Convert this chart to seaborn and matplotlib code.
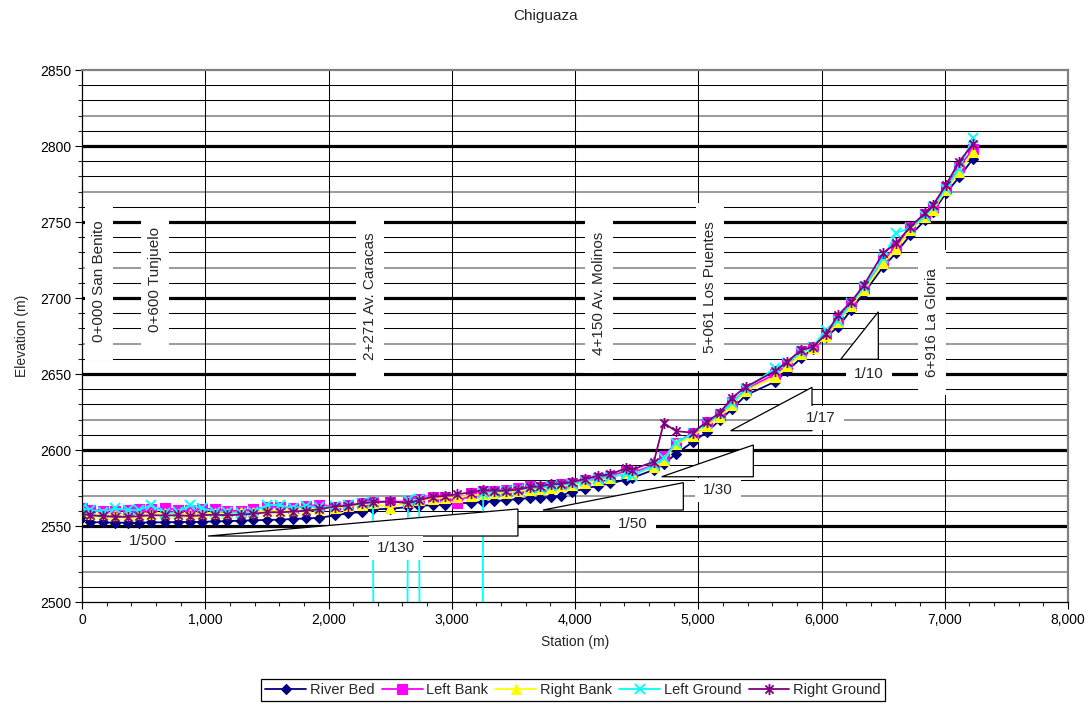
import numpy as np
import pandas as pd
import matplotlib
matplotlib.use("Agg")
import matplotlib.pyplot as plt
from matplotlib.ticker import MultipleLocator, FuncFormatter
from matplotlib.patches import Polygon, Rectangle
from matplotlib.lines import Line2D
from matplotlib.path import Path
import seaborn as sns

# ---------------- data ----------------
stations = [0, 65, 170, 270, 370, 465, 560, 675, 780, 880,
            975, 1080, 1175, 1290, 1385, 1505, 1605, 1710, 1820, 1920,
            2050, 2160, 2270, 2360, 2500, 2645, 2735, 2850, 2945, 3045,
            3155, 3255, 3345, 3440, 3540, 3635, 3715, 3805, 3885, 3975,
            4080, 4185, 4285, 4415, 4460, 4640, 4720, 4820, 4955, 5070,
            5175, 5275, 5385, 5625, 5720, 5835, 5930, 6035, 6135, 6240,
            6345, 6500, 6605, 6720, 6840, 6905, 7010, 7115, 7230]

river_bed = [2555.5, 2552.5, 2552.4, 2552.2, 2552.2, 2552.2, 2552.4, 2552.4, 2552.6, 2552.6,
             2552.8, 2553.0, 2553.2, 2553.5, 2553.7, 2554.0, 2554.2, 2554.6, 2555.0, 2555.3,
             2557.0, 2558.3, 2559.2, 2561.0, 2561.3, 2562.5, 2563.2, 2563.8, 2564.0, 2565.0,
             2565.2, 2565.8, 2566.4, 2567.0, 2567.8, 2568.4, 2568.6, 2569.2, 2570.0, 2572.5,
             2574.5, 2576.5, 2578.0, 2580.5, 2581.5, 2587.0, 2591.0, 2597.4, 2605.3, 2611.8,
             2619.7, 2627.0, 2636.0, 2645.0, 2652.0, 2660.5, 2666.4, 2674.3, 2681.0, 2692.0,
             2703.3, 2720.5, 2729.6, 2741.4, 2751.0, 2756.6, 2769.0, 2779.3, 2791.7]

left_bank = [2562.0, 2560.5, 2560.0, 2560.0, 2560.5, 2561.0, 2561.0, 2562.0, 2560.5, 2560.5,
             2561.0, 2561.5, 2560.0, 2560.0, 2561.0, 2562.5, 2562.5, 2562.0, 2563.0, 2564.0,
             2562.8, 2563.8, 2565.0, 2566.0, 2566.0, 2566.2, 2567.6, 2568.9, 2569.3, 2565.0,
             2571.5, 2573.2, 2573.2, 2573.6, 2574.8, 2576.0, 2575.6, 2576.0, 2577.6, 2578.5,
             2580.0, 2581.5, 2583.0, 2586.0, 2585.0, 2590.0, 2596.0, 2604.5, 2611.5, 2618.5,
             2623.5, 2631.5, 2640.0, 2650.0, 2656.5, 2665.0, 2668.0, 2676.0, 2686.0, 2697.0,
             2707.0, 2725.0, 2734.0, 2747.0, 2755.0, 2760.0, 2773.0, 2786.0, 2798.0]

right_bank = [2560.0, 2558.0, 2558.0, 2557.5, 2557.5, 2558.0, 2558.0, 2558.5, 2558.0, 2558.0,
              2558.5, 2558.5, 2558.5, 2559.0, 2559.0, 2560.0, 2560.0, 2560.5, 2561.0, 2561.5,
              2562.0, 2563.0, 2564.0, 2565.0, 2561.8, 2566.0, 2567.0, 2568.0, 2568.5, 2569.0,
              2570.0, 2571.0, 2571.5, 2572.0, 2573.0, 2574.0, 2574.5, 2575.0, 2576.0, 2577.0,
              2578.5, 2580.0, 2581.5, 2585.0, 2584.0, 2588.5, 2593.4, 2604.0, 2609.0, 2616.0,
              2622.0, 2629.5, 2639.0, 2648.0, 2655.0, 2663.0, 2667.0, 2675.0, 2684.0, 2695.0,
              2705.0, 2723.0, 2732.0, 2745.0, 2753.0, 2758.0, 2771.0, 2783.0, 2796.0]

left_ground = [2561.6, 2560.5, 2559.4, 2561.6, 2560.5, 2560.5, 2563.8, 2558.3, 2559.4, 2563.8,
               2561.6, 2559.4, 2559.4, 2558.3, 2559.4, 2563.8, 2563.8, 2561.6, 2563.2, 2562.3,
               2563.0, 2563.5, 2565.0, 2566.0, 0.0, 2567.0, 2567.5, 0.0, 0.0, 0.0,
               0.0, 2571.5, 2572.5, 2573.0, 2574.0, 2575.0, 2575.0, 2576.0, 2577.0, 2577.5,
               2579.5, 2581.0, 2582.5, 2584.0, 2583.0, 2590.0, 2594.5, 2604.5, 2611.0, 2618.0,
               2623.5, 2631.0, 2640.0, 2654.0, 2657.0, 2664.5, 2668.0, 2679.0, 2685.0, 2696.5,
               2707.0, 2726.0, 2742.8, 2746.0, 2754.0, 2760.0, 2772.0, 2785.0, 2805.5]

right_ground = [2558.0, 2557.0, 2556.5, 2556.0, 2556.0, 2556.5, 2557.0, 2557.0, 2557.0, 2556.5,
                2557.0, 2557.5, 2557.0, 2557.5, 2558.0, 2559.0, 2559.0, 2559.5, 2560.0, 2561.0,
                2562.8, 2563.4, 2565.0, 2565.6, 2566.2, 2565.0, 2567.0, 2569.3, 2569.8, 2571.0,
                2572.0, 2573.8, 2573.2, 2573.2, 2574.0, 2575.6, 2576.0, 2577.6, 2577.6, 2579.0,
                2581.0, 2583.0, 2584.0, 2588.0, 2587.0, 2592.3, 2617.8, 2612.4, 2611.4, 2618.6,
                2624.5, 2634.5, 2641.4, 2652.0, 2658.0, 2665.8, 2667.8, 2676.0, 2688.8, 2697.4,
                2708.6, 2729.6, 2736.0, 2746.7, 2755.9, 2761.2, 2774.3, 2789.5, 2801.3]

series_names = ["River Bed", "Left Bank", "Right Bank", "Left Ground", "Right Ground"]

# station labels: text, station, elevation
site_labels = ["0+000 San Benito", "0+600 Tunjuelo", "2+271 Av. Caracas",
               "4+150 Av. Molinos", "5+061 Los Puentes", "6+916 La Gloria"]
site_x = [138, 592, 2337, 4195, 5095, 6897]
site_y = [2711, 2712, 2701, 2703, 2707, 2684]

# slope triangles (station_start, elev_start, station_end, elev_end)
slope_tri_x0 = [1022, 3740, 4703, 5263, 6156]
slope_tri_y0 = [2543.4, 2560.5, 2582.4, 2612.7, 2659.7]
slope_tri_x1 = [3537, 4879, 5447, 5923, 6461]
slope_tri_y1 = [2561.2, 2578.5, 2603.3, 2641.2, 2690.9]

slope_labels = ["1/500", "1/130", "1/50", "1/30", "1/17", "1/10"]
slope_lab_x = [535, 2548, 4471, 5160, 5996, 6385]
slope_lab_y = [2540.1, 2535.5, 2551.3, 2573.7, 2621.0, 2650.0]

# ---------------- style ----------------
sns.set_style("white")
plt.rcParams['font.family'] = ['Liberation Sans', 'DejaVu Sans']

W, H = 1092, 704
fig = plt.figure(figsize=(W / 100, H / 100), dpi=100)
ax = fig.add_axes([82 / W, 1 - 602 / H, (1068 - 82) / W, (602 - 70) / H])
ax.set_xlim(0, 8000)
ax.set_ylim(2500, 2850)

# gridlines
for v in range(2510, 2850, 10):
    if v % 50 == 0:
        ax.axhline(v, color='black', lw=2.3, zorder=1)
    elif v % 50 == 20:
        ax.axhline(v, color='#808080', lw=1.1, zorder=1)
    else:
        ax.axhline(v, color='black', lw=0.75, zorder=1)
for s in range(1000, 8000, 1000):
    ax.axvline(s, color='black', lw=0.75, zorder=1)

# data
df = pd.DataFrame({"Station": stations,
                   "River Bed": river_bed,
                   "Left Bank": left_bank,
                   "Right Bank": right_bank,
                   "Left Ground": left_ground,
                   "Right Ground": right_ground})
long = df.melt(id_vars="Station", var_name="Series", value_name="Elevation")

star = Path([(-1, -1), (1, 1), (-1, 1), (1, -1), (0, -1.35), (0, 1.35)],
            [Path.MOVETO, Path.LINETO] * 3)

specs = {
    "River Bed": dict(color='#000080', marker='D', ms=5.5, mew=0.8),
    "Left Bank": dict(color='#FF00FF', marker='s', ms=6.5, mew=0.8),
    "Right Bank": dict(color='#FFFF00', marker='^', ms=7, mew=0.8),
    "Left Ground": dict(color='#00FFFF', marker='x', ms=7, mew=1.4),
    "Right Ground": dict(color='#800080', marker=star, ms=8, mew=1.3),
}

for i, name in enumerate(series_names):
    sp = specs[name]
    sub = long[long["Series"] == name]
    sns.lineplot(data=sub, x="Station", y="Elevation", ax=ax, color=sp['color'],
                 marker=sp['marker'], markersize=sp['ms'], markeredgecolor=sp['color'],
                 markerfacecolor=sp['color'], markeredgewidth=sp['mew'],
                 linewidth=1.3, sort=False, estimator=None, legend=False, zorder=3 + i * 0.1)

# slope triangles
for x0, y0, x1, y1 in zip(slope_tri_x0, slope_tri_y0, slope_tri_x1, slope_tri_y1):
    tri = Polygon([(x0, y0), (x1, y1), (x1, y0)], closed=True, facecolor='white',
                  edgecolor='black', lw=0.9, zorder=5)
    ax.add_patch(tri)

slope_texts = []
for t, x, y in zip(slope_labels, slope_lab_x, slope_lab_y):
    slope_texts.append(ax.text(x, y, t, ha='center', va='center', fontsize=11, zorder=6))

site_texts = []
for t, x, y in zip(site_labels, site_x, site_y):
    site_texts.append(ax.text(x, y, t, ha='center', va='center', rotation=90,
                              fontsize=11, zorder=6))

# axes
ax.xaxis.set_major_locator(MultipleLocator(1000))
ax.xaxis.set_minor_locator(MultipleLocator(200))
ax.yaxis.set_major_locator(MultipleLocator(50))
ax.yaxis.set_minor_locator(MultipleLocator(10))
ax.xaxis.set_major_formatter(FuncFormatter(lambda v, p: f"{int(v):,}"))
ax.tick_params(axis='both', which='major', direction='out', length=5, width=0.8,
               labelsize=10, colors='black', pad=3)
ax.tick_params(axis='both', which='minor', direction='out', length=3, width=0.8)
ax.tick_params(axis='x', which='both', bottom=True)
ax.tick_params(axis='y', which='both', left=True)
ax.grid(False)

for side in ['left', 'bottom']:
    ax.spines[side].set_color('black')
    ax.spines[side].set_linewidth(0.9)
for side in ['top', 'right']:
    ax.spines[side].set_color('#808080')
    ax.spines[side].set_linewidth(1.6)
for sp_ in ax.spines.values():
    sp_.set_zorder(7)

ax.set_xlabel("Station (m)", fontsize=10, labelpad=6)
ax.set_ylabel("Elevation (m)", fontsize=10, labelpad=8)

fig.text(546 / W, 1 - 16 / H, "Chiguaza", ha='center', va='center', fontsize=11)

# legend
handles = []
for name in series_names:
    sp = specs[name]
    handles.append(Line2D([0], [0], color=sp['color'], marker=sp['marker'], markersize=sp['ms'],
                          markeredgecolor=sp['color'], markerfacecolor=sp['color'],
                          markeredgewidth=sp['mew'], lw=1.3))
leg = fig.legend(handles, series_names, loc='center', bbox_to_anchor=(573 / W, 1 - 690 / H),
                 ncol=5, frameon=True, fancybox=False, edgecolor='black', fontsize=10.5,
                 handlelength=2.8, columnspacing=0.5, handletextpad=0.25, borderpad=0.3,
                 framealpha=1)
leg.get_frame().set_linewidth(0.9)

# white text boxes behind the annotation texts (sized from rendered text extents)
fig.canvas.draw()
renderer = fig.canvas.get_renderer()
inv = ax.transData.inverted()


def white_box(txt, padx, pady):
    bb = txt.get_window_extent(renderer)
    (dx0, dy0) = inv.transform((bb.x0 - padx, bb.y0 - pady))
    (dx1, dy1) = inv.transform((bb.x1 + padx, bb.y1 + pady))
    ax.add_patch(Rectangle((dx0, dy0), dx1 - dx0, dy1 - dy0, facecolor='white',
                           edgecolor='none', zorder=5.5, clip_on=True))


for t in slope_texts:
    white_box(t, 8, 5)
for t in site_texts:
    white_box(t, 7, 18)

fig.savefig("out.png", dpi=100)
